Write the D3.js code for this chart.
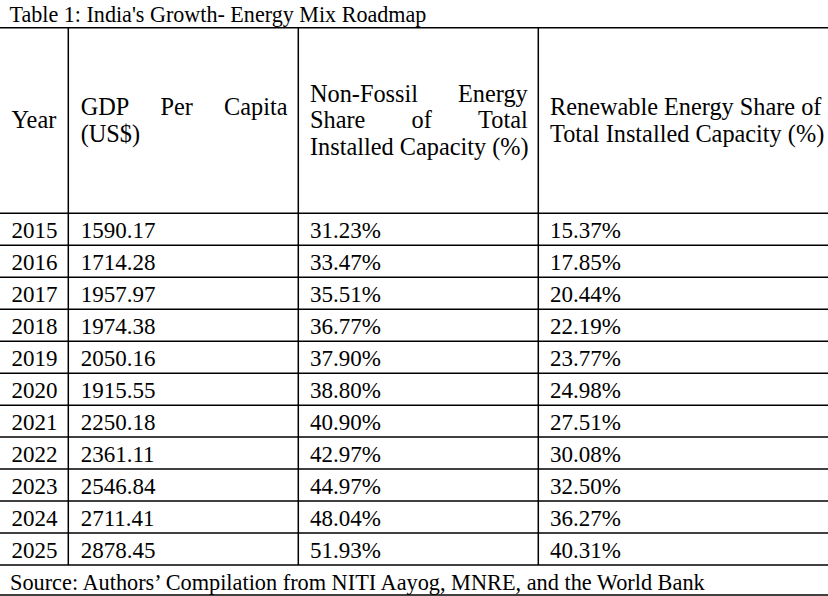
<!DOCTYPE html>
<html><head><meta charset="utf-8">
<script src="https://cdn.jsdelivr.net/npm/d3@7"></script>
<style>html,body{margin:0;padding:0;background:#fff;overflow:hidden}</style>
</head><body>
<script>
// ---- data ----
const title = "Table 1: India's Growth- Energy Mix Roadmap";
const source = "Source: Authors\u2019 Compilation from NITI Aayog, MNRE, and the World Bank";
const years = [2015, 2016, 2017, 2018, 2019, 2020, 2021, 2022, 2023, 2024, 2025];
const gdpPerCapita = [1590.17, 1714.28, 1957.97, 1974.38, 2050.16, 1915.55, 2250.18, 2361.11, 2546.84, 2711.41, 2878.45];
const nonFossilShare = [31.23, 33.47, 35.51, 36.77, 37.90, 38.80, 40.90, 42.97, 44.97, 48.04, 51.93];
const renewableShare = [15.37, 17.85, 20.44, 22.19, 23.77, 24.98, 27.51, 30.08, 32.50, 36.27, 40.31];
const headerLines = [
  ["Year"],
  ["GDP Per Capita", "(US$)"],
  ["Non-Fossil Energy", "Share of Total", "Installed Capacity (%)"],
  ["Renewable Energy Share of", "Total Installed Capacity (%)"]
];
const headerJustify = [[false], [true, false], [true, true, false], [false, false]];

// ---- layout ----
const W = 828, H = 596;
const FONT = "'Liberation Serif', 'Times New Roman', serif";
const bodySize = 23, headSize = 24.3, titleSize = 22.1, sourceSize = 22.3;
const colEdges = [0, 68.3, 298.3, 538.3, 828];
const textX = [11.5, 80.7, 310, 550];
const justifyRight = [56, 287.5, 527.7, 821];
const tableTop = 27.7, headBottom = 213.3, tableBottom = 565, sourceLine = 595;
const lineH = 26.67;

const svg = d3.select("body").append("svg").attr("width", W).attr("height", H)
  .style("font-family", FONT).style("fill", "#000");

const col = d3.scaleOrdinal().domain([0,1,2,3]).range(textX);
const row = d3.scaleBand().domain(years).range([headBottom, tableBottom]);

// title & source
svg.append("text").attr("x", 9.5).attr("y", 21.7).attr("font-size", titleSize).text(title);
svg.append("text").attr("x", 10).attr("y", 590).attr("font-size", sourceSize).text(source);

// grid lines
const g = svg.append("g").attr("stroke", "#000").attr("stroke-width", 1.5);
const hLines = [tableTop, headBottom, ...years.map(y => row(y) + row.bandwidth()), sourceLine];
g.selectAll("line.h").data(hLines).join("line").attr("class", "h")
  .attr("x1", 0).attr("x2", W).attr("y1", d => d).attr("y2", d => d);
g.selectAll("line.v").data(colEdges.slice(1, 4)).join("line").attr("class", "v")
  .attr("x1", d => d).attr("x2", d => d).attr("y1", tableTop).attr("y2", tableBottom);

// header
const headCenter = (tableTop + headBottom) / 2;
headerLines.forEach((lines, ci) => {
  const n = lines.length;
  const firstBase = headCenter - (n - 1) * lineH / 2 + 7.8;
  lines.forEach((line, li) => {
    const y = firstBase + li * lineH;
    if (headerJustify[ci][li]) {
      const words = line.split(" ");
      const tmp = words.map(w => svg.append("text").attr("font-size", headSize).text(w));
      const widths = tmp.map(t => t.node().getComputedTextLength());
      const total = d3.sum(widths);
      const gap = (justifyRight[ci] - col(ci) - total) / (words.length - 1);
      let x = col(ci);
      tmp.forEach((t, i) => { t.attr("x", x).attr("y", y); x += widths[i] + gap; });
    } else {
      svg.append("text").attr("x", col(ci)).attr("y", y).attr("font-size", headSize).text(line);
    }
  });
});

// body
const fmt2 = d3.format(".2f");
const cells = years.map((yr, i) => [String(yr), fmt2(gdpPerCapita[i]), fmt2(nonFossilShare[i]) + "%", fmt2(renewableShare[i]) + "%"]);
const rows = svg.append("g").attr("font-size", bodySize).selectAll("g").data(years).join("g");
rows.selectAll("text").data((d, i) => cells[i].map((v, ci) => ({ v, ci, yr: d }))).join("text")
  .attr("x", d => col(d.ci)).attr("y", d => row(d.yr) + 24.5).text(d => d.v);
</script>
</body></html>
